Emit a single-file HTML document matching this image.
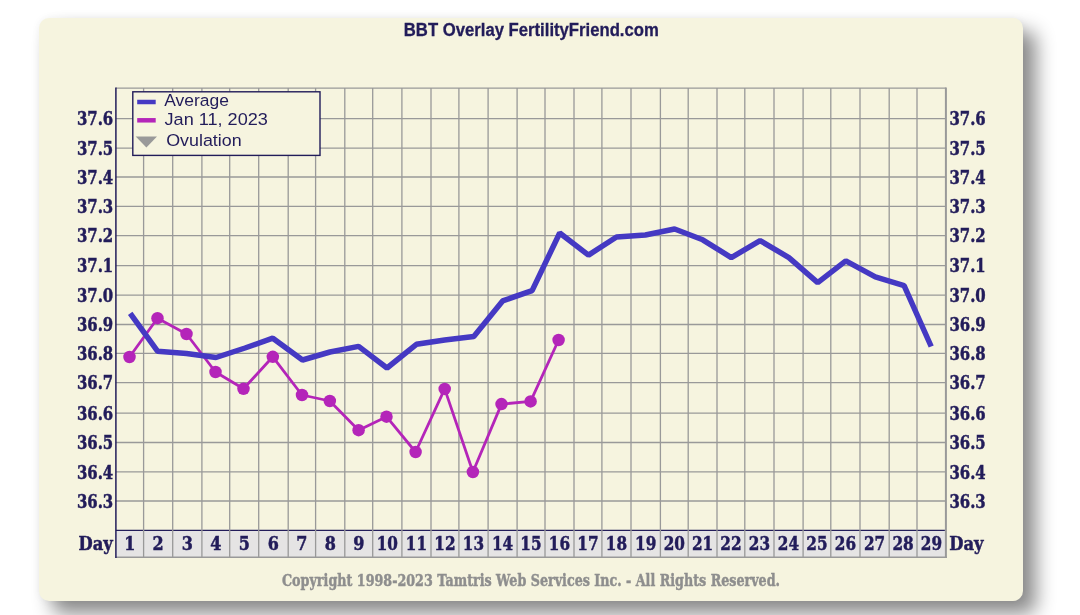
<!DOCTYPE html>
<html lang="en">
<head>
<meta charset="utf-8">
<title>BBT Overlay FertilityFriend.com</title>
<style>
html,body{margin:0;padding:0;background:#fff;}
body{width:1080px;height:615px;overflow:hidden;position:relative;}
#card{position:absolute;left:39px;top:17.5px;width:983.7px;height:583.3px;background:#f6f4df;border-radius:10px;
box-shadow:13px 13px 19px 0 rgba(0,0,0,.455), 0 0 9px 0 rgba(0,0,0,.05);}
svg{position:absolute;left:0;top:0;}
.ser{font-family:"DejaVu Serif","Liberation Serif",serif;font-weight:bold;fill:#221c5a;stroke:#221c5a;stroke-width:.5px;font-size:18.2px;}
.san{font-family:"Liberation Sans","DejaVu Sans",sans-serif;fill:#221c5a;}
</style>
</head>
<body>
<div id="card"></div>
<svg width="1080" height="615" viewBox="0 0 1080 615">

<rect x="115.9" y="530.2" width="830" height="27.3" fill="#e5e4e4"/>
<path d="M115.9 530.4H944.9" stroke="#221c5a" stroke-width="1.4" fill="none"/>
<path d="M143.6 88.2V557.5M172.7 88.2V557.5M201.9 88.2V557.5M229.7 88.2V557.5M258.7 88.2V557.5M288.2 88.2V557.5M315.6 88.2V557.5M344.8 88.2V557.5M372.7 88.2V557.5M401.9 88.2V557.5M431.0 88.2V557.5M458.9 88.2V557.5M488.1 88.2V557.5M517.1 88.2V557.5M545.0 88.2V557.5M574.0 88.2V557.5M601.9 88.2V557.5M631.0 88.2V557.5M660.4 88.2V557.5M688.2 88.2V557.5M717.0 88.2V557.5M744.8 88.2V557.5M774.0 88.2V557.5M803.1 88.2V557.5M830.8 88.2V557.5M860.0 88.2V557.5M889.2 88.2V557.5M917.0 88.2V557.5M115.9 88.2H945.9M115.9 118.7H945.9M115.9 148.2H945.9M115.9 177.0H945.9M115.9 206.4H945.9M115.9 235.6H945.9M115.9 265.6H945.9M115.9 295.2H945.9M115.9 324.5H945.9M115.9 353.4H945.9M115.9 382.7H945.9M115.9 413.2H945.9M115.9 442.5H945.9M115.9 471.8H945.9M115.9 501.0H945.9" stroke="#999999" stroke-width="1.3" fill="none"/>
<path d="M945.9 87.6V558" stroke="#999999" stroke-width="2" fill="none"/>
<path d="M115.9 557.2H946.9" stroke="#999999" stroke-width="1.5" fill="none"/>
<path d="M115.9 87.6V558" stroke="#221c5a" stroke-width="1.5" fill="none"/>
<text class="ser" transform="translate(113.2,125.4) scale(0.820,1)" text-anchor="end">37.6</text>
<text class="ser" transform="translate(949.4,125.4) scale(0.820,1)">37.6</text>
<text class="ser" transform="translate(113.2,154.9) scale(0.820,1)" text-anchor="end">37.5</text>
<text class="ser" transform="translate(949.4,154.9) scale(0.820,1)">37.5</text>
<text class="ser" transform="translate(113.2,183.7) scale(0.820,1)" text-anchor="end">37.4</text>
<text class="ser" transform="translate(949.4,183.7) scale(0.820,1)">37.4</text>
<text class="ser" transform="translate(113.2,213.1) scale(0.820,1)" text-anchor="end">37.3</text>
<text class="ser" transform="translate(949.4,213.1) scale(0.820,1)">37.3</text>
<text class="ser" transform="translate(113.2,242.3) scale(0.820,1)" text-anchor="end">37.2</text>
<text class="ser" transform="translate(949.4,242.3) scale(0.820,1)">37.2</text>
<text class="ser" transform="translate(113.2,272.3) scale(0.820,1)" text-anchor="end">37.1</text>
<text class="ser" transform="translate(949.4,272.3) scale(0.820,1)">37.1</text>
<text class="ser" transform="translate(113.2,301.9) scale(0.820,1)" text-anchor="end">37.0</text>
<text class="ser" transform="translate(949.4,301.9) scale(0.820,1)">37.0</text>
<text class="ser" transform="translate(113.2,331.2) scale(0.820,1)" text-anchor="end">36.9</text>
<text class="ser" transform="translate(949.4,331.2) scale(0.820,1)">36.9</text>
<text class="ser" transform="translate(113.2,360.1) scale(0.820,1)" text-anchor="end">36.8</text>
<text class="ser" transform="translate(949.4,360.1) scale(0.820,1)">36.8</text>
<text class="ser" transform="translate(113.2,389.4) scale(0.820,1)" text-anchor="end">36.7</text>
<text class="ser" transform="translate(949.4,389.4) scale(0.820,1)">36.7</text>
<text class="ser" transform="translate(113.2,419.9) scale(0.820,1)" text-anchor="end">36.6</text>
<text class="ser" transform="translate(949.4,419.9) scale(0.820,1)">36.6</text>
<text class="ser" transform="translate(113.2,449.2) scale(0.820,1)" text-anchor="end">36.5</text>
<text class="ser" transform="translate(949.4,449.2) scale(0.820,1)">36.5</text>
<text class="ser" transform="translate(113.2,478.5) scale(0.820,1)" text-anchor="end">36.4</text>
<text class="ser" transform="translate(949.4,478.5) scale(0.820,1)">36.4</text>
<text class="ser" transform="translate(113.2,507.7) scale(0.820,1)" text-anchor="end">36.3</text>
<text class="ser" transform="translate(949.4,507.7) scale(0.820,1)">36.3</text>
<text class="ser" transform="translate(129.8,549.6) scale(0.880,1)" text-anchor="middle">1</text>
<text class="ser" transform="translate(158.1,549.6) scale(0.880,1)" text-anchor="middle">2</text>
<text class="ser" transform="translate(187.3,549.6) scale(0.880,1)" text-anchor="middle">3</text>
<text class="ser" transform="translate(215.8,549.6) scale(0.880,1)" text-anchor="middle">4</text>
<text class="ser" transform="translate(244.2,549.6) scale(0.880,1)" text-anchor="middle">5</text>
<text class="ser" transform="translate(273.4,549.6) scale(0.880,1)" text-anchor="middle">6</text>
<text class="ser" transform="translate(301.9,549.6) scale(0.880,1)" text-anchor="middle">7</text>
<text class="ser" transform="translate(330.2,549.6) scale(0.880,1)" text-anchor="middle">8</text>
<text class="ser" transform="translate(358.8,549.6) scale(0.880,1)" text-anchor="middle">9</text>
<text class="ser" transform="translate(387.3,549.6) scale(0.840,1)" text-anchor="middle">10</text>
<text class="ser" transform="translate(416.4,549.6) scale(0.840,1)" text-anchor="middle">11</text>
<text class="ser" transform="translate(444.9,549.6) scale(0.840,1)" text-anchor="middle">12</text>
<text class="ser" transform="translate(473.5,549.6) scale(0.840,1)" text-anchor="middle">13</text>
<text class="ser" transform="translate(502.6,549.6) scale(0.840,1)" text-anchor="middle">14</text>
<text class="ser" transform="translate(531.0,549.6) scale(0.840,1)" text-anchor="middle">15</text>
<text class="ser" transform="translate(559.5,549.6) scale(0.840,1)" text-anchor="middle">16</text>
<text class="ser" transform="translate(588.0,549.6) scale(0.840,1)" text-anchor="middle">17</text>
<text class="ser" transform="translate(616.5,549.6) scale(0.840,1)" text-anchor="middle">18</text>
<text class="ser" transform="translate(645.7,549.6) scale(0.840,1)" text-anchor="middle">19</text>
<text class="ser" transform="translate(674.3,549.6) scale(0.840,1)" text-anchor="middle">20</text>
<text class="ser" transform="translate(702.6,549.6) scale(0.840,1)" text-anchor="middle">21</text>
<text class="ser" transform="translate(730.9,549.6) scale(0.840,1)" text-anchor="middle">22</text>
<text class="ser" transform="translate(759.4,549.6) scale(0.840,1)" text-anchor="middle">23</text>
<text class="ser" transform="translate(788.5,549.6) scale(0.840,1)" text-anchor="middle">24</text>
<text class="ser" transform="translate(817.0,549.6) scale(0.840,1)" text-anchor="middle">25</text>
<text class="ser" transform="translate(845.4,549.6) scale(0.840,1)" text-anchor="middle">26</text>
<text class="ser" transform="translate(874.6,549.6) scale(0.840,1)" text-anchor="middle">27</text>
<text class="ser" transform="translate(903.1,549.6) scale(0.840,1)" text-anchor="middle">28</text>
<text class="ser" transform="translate(931.5,549.6) scale(0.840,1)" text-anchor="middle">29</text>
<text class="ser" transform="translate(112.8,549.9) scale(0.900,1)" text-anchor="end">Day</text>
<text class="ser" transform="translate(949.2,549.9) scale(0.900,1)">Day</text>
<polyline fill="none" stroke="#b425b9" stroke-width="2.8" stroke-linejoin="round" points="129.5,357.0 157.5,318.2 186.5,334.0 215.5,372.0 243.5,388.8 272.8,356.8 302.0,395.0 329.8,401.0 358.6,430.2 386.5,416.7 415.6,452.0 444.7,388.9 472.9,472.0 501.5,404.1 530.6,401.4 558.6,340.0"/>
<circle cx="129.5" cy="357.0" r="6.25" fill="#b425b9"/>
<circle cx="157.5" cy="318.2" r="6.25" fill="#b425b9"/>
<circle cx="186.5" cy="334.0" r="6.25" fill="#b425b9"/>
<circle cx="215.5" cy="372.0" r="6.25" fill="#b425b9"/>
<circle cx="243.5" cy="388.8" r="6.25" fill="#b425b9"/>
<circle cx="272.8" cy="356.8" r="6.25" fill="#b425b9"/>
<circle cx="302.0" cy="395.0" r="6.25" fill="#b425b9"/>
<circle cx="329.8" cy="401.0" r="6.25" fill="#b425b9"/>
<circle cx="358.6" cy="430.2" r="6.25" fill="#b425b9"/>
<circle cx="386.5" cy="416.7" r="6.25" fill="#b425b9"/>
<circle cx="415.6" cy="452.0" r="6.25" fill="#b425b9"/>
<circle cx="444.7" cy="388.9" r="6.25" fill="#b425b9"/>
<circle cx="472.9" cy="472.0" r="6.25" fill="#b425b9"/>
<circle cx="501.5" cy="404.1" r="6.25" fill="#b425b9"/>
<circle cx="530.6" cy="401.4" r="6.25" fill="#b425b9"/>
<circle cx="558.6" cy="340.0" r="6.25" fill="#b425b9"/>
<polyline fill="none" stroke="#4539c3" stroke-width="5.5" stroke-linejoin="bevel" points="130.2,313.3 157.5,351.2 186.5,353.5 216.0,357.5 245.0,348.0 272.8,338.2 302.5,360.0 330.0,352.0 358.6,346.4 387.0,368.0 416.4,344.3 444.7,340.0 473.8,336.4 502.6,300.9 532.1,290.6 559.7,233.0 588.5,255.1 616.5,237.0 645.3,235.0 674.6,229.0 702.7,239.8 731.3,257.6 760.1,240.6 788.9,257.6 817.7,282.6 845.8,260.8 875.3,276.9 904.1,285.6 931.2,346.5"/>
<rect x="132.8" y="91.8" width="187.2" height="63.6" fill="#f6f4df" stroke="#221c5a" stroke-width="1.4"/>
<path d="M137.2 102H155.7" stroke="#4539c3" stroke-width="4.5"/>
<path d="M137.2 120.3H155.7" stroke="#b425b9" stroke-width="4.5"/>
<path d="M135.7 136.6H157L146.4 147.6Z" fill="#999"/>
<text class="san" x="164.3" y="106.3" font-size="16.8" textLength="64.7" lengthAdjust="spacingAndGlyphs">Average</text>
<text class="san" x="164.5" y="125.2" font-size="16.8" textLength="103.4" lengthAdjust="spacingAndGlyphs">Jan 11, 2023</text>
<text class="san" x="166.2" y="146.3" font-size="16.8" textLength="75.5" lengthAdjust="spacingAndGlyphs">Ovulation</text>
<text class="san" x="403.8" y="35.8" font-size="18" font-weight="bold" stroke="#221c5a" stroke-width=".3" textLength="255" lengthAdjust="spacingAndGlyphs">BBT Overlay FertilityFriend.com</text>
<text class="ser" x="282" y="586.2" textLength="498" lengthAdjust="spacingAndGlyphs" style="fill:#8e8e8e;stroke:#8e8e8e;font-size:17px">Copyright 1998-2023 Tamtris Web Services Inc. - All Rights Reserved.</text>
</svg>
</body>
</html>
